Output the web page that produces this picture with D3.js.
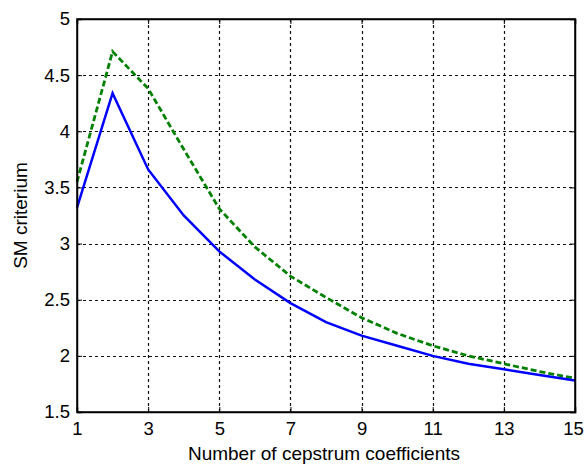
<!DOCTYPE html>
<html>
<head>
<meta charset="utf-8">
<script src="https://cdn.jsdelivr.net/npm/d3@7"></script>
<style>
  body { margin: 0; background: #fff; }
  text { font-family: "Liberation Sans", Arial, sans-serif; fill: #000; }
</style>
</head>
<body>
<svg id="chart" width="584" height="465"></svg>
<script>
// number of cepstrum coefficients
var coeffs = [1, 2, 3, 4, 5, 6, 7, 8, 9, 10, 11, 12, 13, 14, 15];
// SM criterium, solid blue
var blueVals = [3.32, 4.34, 3.66, 3.25, 2.93, 2.68, 2.47, 2.30, 2.18, 2.09, 2.00, 1.93, 1.88, 1.83, 1.78];
// SM criterium, dashed green
var greenVals = [3.55, 4.71, 4.38, 3.84, 3.31, 2.97, 2.71, 2.52, 2.34, 2.20, 2.09, 2.00, 1.93, 1.86, 1.80];
var xTicks = [1, 3, 5, 7, 9, 11, 13, 15];
var yTicks = [1.5, 2, 2.5, 3, 3.5, 4, 4.5, 5];

var svg = d3.select("#chart");
// note: "top" is window.top, so use other names
var plotL = 77, plotR = 575, plotT = 19, plotB = 412;

var x = d3.scaleLinear().domain([1, 15]).range([plotL, plotR]);
var y = d3.scaleLinear().domain([1.5, 5]).range([plotB, plotT]);

// grid
var grid = svg.append("g").attr("stroke", "#111").attr("stroke-width", 1.2)
    .attr("stroke-dasharray", "3,3");
grid.selectAll(".gx").data(xTicks.slice(1, -1)).enter().append("line")
    .attr("x1", d => Math.round(x(d)) + 0.5).attr("x2", d => Math.round(x(d)) + 0.5)
    .attr("y1", plotT).attr("y2", plotB);
grid.selectAll(".gy").data(yTicks.slice(1, -1)).enter().append("line")
    .attr("y1", d => Math.round(y(d)) + 0.5).attr("y2", d => Math.round(y(d)) + 0.5)
    .attr("x1", plotL).attr("x2", plotR);

// curves
var line = d3.line().x((d, i) => x(coeffs[i])).y(d => y(d));
svg.append("path").datum(greenVals).attr("d", line)
    .attr("fill", "none").attr("stroke", "#008000").attr("stroke-width", 2.8)
    .attr("stroke-dasharray", "6,3");
svg.append("path").datum(blueVals).attr("d", line)
    .attr("fill", "none").attr("stroke", "#0000ff").attr("stroke-width", 2.5);

// axes with inward ticks
var xAxis = svg.append("g").attr("transform", "translate(0," + plotB + ")")
    .call(d3.axisBottom(x).tickValues(xTicks).tickSize(-5).tickPadding(10).tickFormat(d3.format("d")));
svg.append("g").attr("transform", "translate(" + plotL + ",0)")
    .call(d3.axisLeft(y).tickValues(yTicks).tickSize(-5).tickPadding(7).tickFormat(d3.format("")));
svg.append("g").attr("transform", "translate(0," + plotT + ")")
    .call(d3.axisTop(x).tickValues(xTicks).tickSize(-5).tickFormat(""));
svg.append("g").attr("transform", "translate(" + plotR + ",0)")
    .call(d3.axisRight(y).tickValues(yTicks).tickSize(-5).tickFormat(""));
svg.selectAll(".domain").attr("stroke", "#000").attr("stroke-width", 1.5);
svg.selectAll(".tick line").attr("stroke", "#000");
svg.selectAll(".tick text").attr("font-size", 18.5).attr("fill", "#000")
    .attr("font-family", "Liberation Sans, Arial, sans-serif");
// last label sits right at the window edge, pull it in a touch
xAxis.selectAll(".tick text").filter(d => d === 15).attr("dx", -2);

// frame
svg.append("rect").attr("x", plotL).attr("y", plotT)
    .attr("width", plotR - plotL).attr("height", plotB - plotT)
    .attr("fill", "none").attr("stroke", "#000").attr("stroke-width", 1.5);

// labels
svg.append("text").attr("x", 324).attr("y", 460)
    .attr("text-anchor", "middle").attr("font-size", 19)
    .text("Number of cepstrum coefficients");
svg.append("text").attr("transform", "translate(27," + (plotT + plotB) / 2 + ") rotate(-90)")
    .attr("text-anchor", "middle").attr("font-size", 19)
    .text("SM criterium");
</script>
</body>
</html>
